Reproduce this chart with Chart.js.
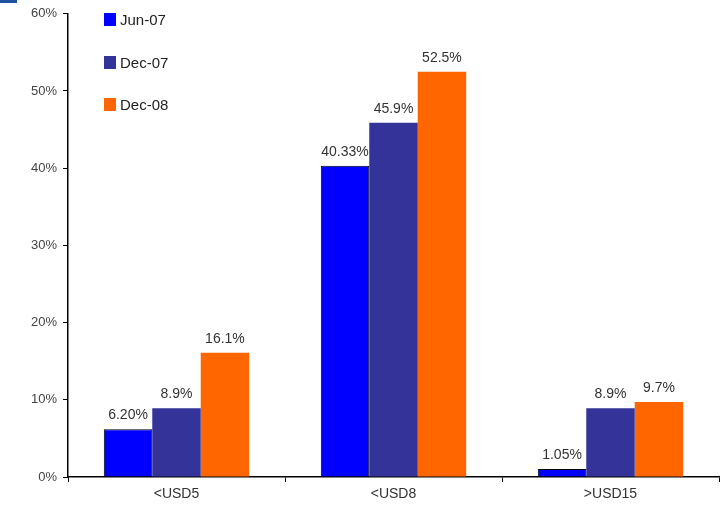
<!DOCTYPE html>
<html>
<head>
<meta charset="utf-8">
<script src="https://cdn.jsdelivr.net/npm/chart.js@4"></script>
<style>
html,body{margin:0;padding:0;background:#fff;}
#wrap{position:relative;width:723px;height:508px;}
#mark{position:absolute;left:0;top:0;width:17px;height:3px;background:#1f4f9e;}
</style>
</head>
<body>
<div id="wrap"><div id="mark"></div><canvas id="c" width="723" height="508"></canvas></div>
<script>
const categories = ['<USD5', '<USD8', '>USD15'];
const seriesNames = ['Jun-07', 'Dec-07', 'Dec-08'];
const jun07 = [6.20, 40.33, 1.05];
const dec07 = [8.9, 45.9, 8.9];
const dec08 = [16.1, 52.5, 9.7];
const jun07Labels = ['6.20%', '40.33%', '1.05%'];
const dec07Labels = ['8.9%', '45.9%', '8.9%'];
const dec08Labels = ['16.1%', '52.5%', '9.7%'];
const yTicks = [0, 10, 20, 30, 40, 50, 60];

const FONT = '"Liberation Sans", Arial, sans-serif';

const valueLabels = {
  id: 'valueLabels',
  afterDatasetsDraw(chart) {
    const ctx = chart.ctx;
    ctx.save();
    ctx.font = '14px ' + FONT;
    ctx.fillStyle = '#333';
    ctx.textAlign = 'center';
    ctx.textBaseline = 'bottom';
    chart.data.datasets.forEach((ds, i) => {
      const meta = chart.getDatasetMeta(i);
      meta.data.forEach((bar, j) => {
        ctx.fillText(ds.valueLabels[j], bar.x, bar.y - 7);
      });
    });
    ctx.restore();
  }
};

const sideLegend = {
  id: 'sideLegend',
  afterDraw(chart) {
    const ctx = chart.ctx;
    ctx.save();
    ctx.font = '15px ' + FONT;
    ctx.textBaseline = 'middle';
    ctx.textAlign = 'left';
    const x0 = 104, ys = [20, 63, 105];
    chart.data.datasets.forEach((ds, i) => {
      const y = ys[i];
      ctx.fillStyle = ds.backgroundColor;
      ctx.fillRect(x0, y - 7, 12, 13);
      ctx.fillStyle = '#222';
      ctx.fillText(ds.label, x0 + 16, y + 1);
    });
    ctx.restore();
  }
};

new Chart(document.getElementById('c'), {
  type: 'bar',
  data: {
    labels: categories,
    datasets: [
      { label: seriesNames[0], data: jun07, valueLabels: jun07Labels, backgroundColor: '#0000ff', borderColor: '#000', borderWidth: 1 },
      { label: seriesNames[1], data: dec07, valueLabels: dec07Labels, backgroundColor: '#333399', borderWidth: 0 },
      { label: seriesNames[2], data: dec08, valueLabels: dec08Labels, backgroundColor: '#ff6600', borderWidth: 0 }
    ]
  },
  options: {
    responsive: false,
    animation: false,
    layout: { padding: { top: 11, right: 4, left: 0, bottom: 0 } },
    datasets: { bar: { barPercentage: 1.0, categoryPercentage: 0.67 } },
    plugins: { legend: { display: false }, tooltip: { enabled: false } },
    scales: {
      x: {
        grid: { display: true, drawOnChartArea: false, drawTicks: true, tickLength: 5, color: '#000', offset: true },
        border: { display: true, color: '#000', width: 1.5 },
        ticks: { color: '#333', font: { family: FONT, size: 14 }, padding: 4 },
        afterFit(s) { s.height = 31; }
      },
      y: {
        min: 0, max: 60,
        afterBuildTicks(s) { s.ticks = yTicks.map(v => ({ value: v })); },
        grid: { display: true, drawOnChartArea: false, drawTicks: true, tickLength: 5, color: '#000' },
        border: { display: true, color: '#000', width: 1.5 },
        ticks: { color: '#444', font: { family: FONT, size: 13 }, padding: 6, callback: v => v + '%' },
        afterFit(s) { s.width = 68; }
      }
    }
  },
  plugins: [valueLabels, sideLegend]
});
</script>
</body>
</html>
